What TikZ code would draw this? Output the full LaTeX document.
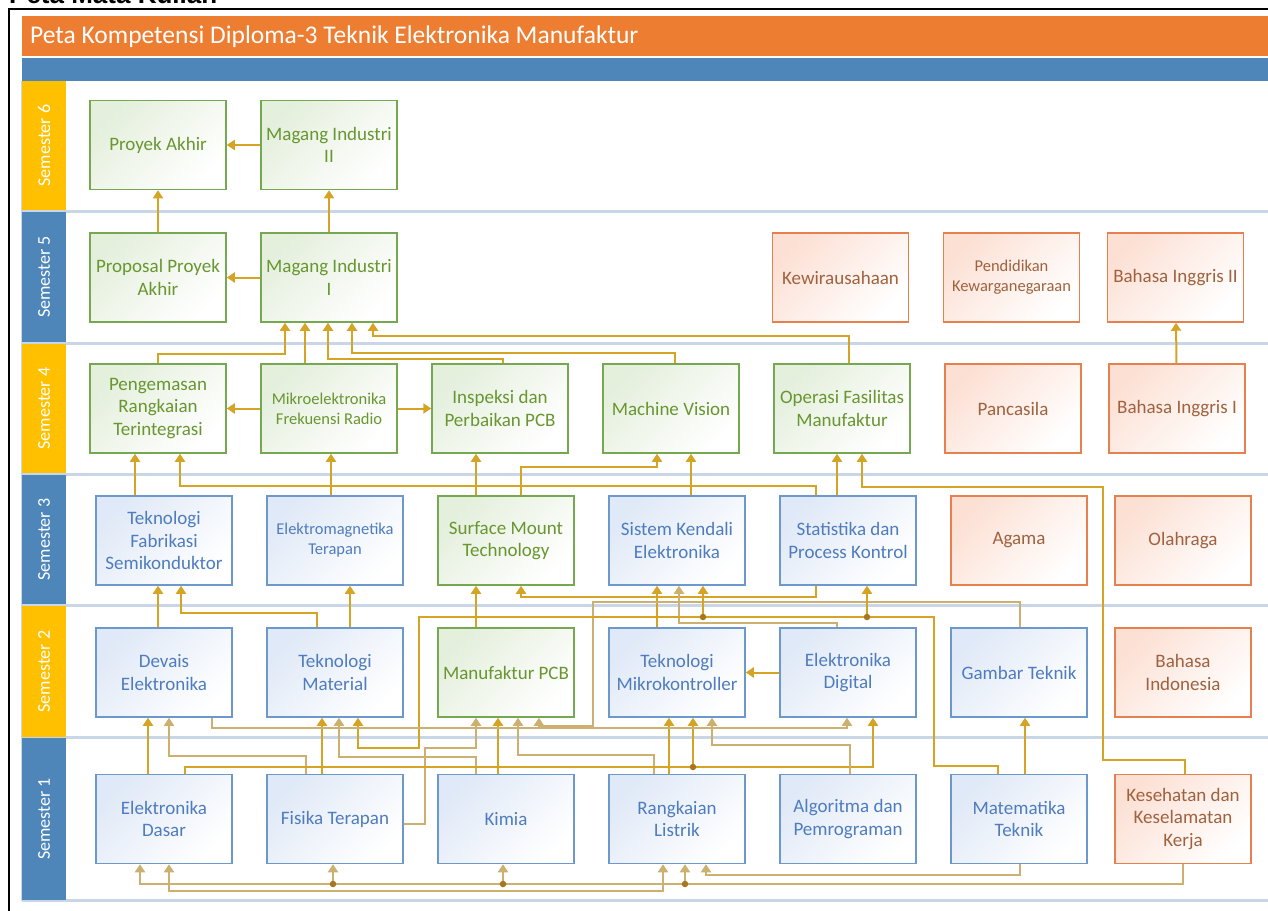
\documentclass[tikz,border=0pt]{standalone}
\usepackage{fontspec}
\setmainfont{Carlito}
\newfontfamily\headfont{Liberation Sans}
\usetikzlibrary{positioning,arrows.meta}

\definecolor{titleOrange}{RGB}{237,125,49}
\definecolor{laneBlue}{RGB}{78,134,186}
\definecolor{laneYellow}{RGB}{255,192,0}
\definecolor{laneLine}{RGB}{200,214,232}
\definecolor{flowGold}{RGB}{214,164,36}
\definecolor{flowTan}{RGB}{204,176,112}
\definecolor{dotBrown}{RGB}{168,118,32}
\definecolor{greenLine}{RGB}{118,168,82}
\definecolor{greenFill}{RGB}{228,239,220}
\definecolor{greenText}{RGB}{104,150,48}
\definecolor{blueLine}{RGB}{108,152,204}
\definecolor{blueFill}{RGB}{224,233,247}
\definecolor{blueText}{RGB}{78,124,190}
\definecolor{orangeLine}{RGB}{230,128,78}
\definecolor{orangeFill}{RGB}{252,224,212}
\definecolor{orangeText}{RGB}{160,98,62}

\begin{document}
\begin{tikzpicture}[x=1pt,y=-1pt,>={Triangle[width=10pt,length=8pt]}]

    %
    % Styles for courses, lanes and flows
    %
    \tikzstyle{course} = [draw, line width=1.5pt, rectangle, align=center, inner sep=2pt,
                          minimum width=136pt, minimum height=89pt, node distance=33.5pt,
                          shading angle=45, font={\fontsize{19}{22.5}\selectfont}]
    \tikzstyle{greenCourse} = [course, draw=greenLine, top color=greenFill, bottom color=white,
                               shading angle=45, text=greenText]
    \tikzstyle{blueCourse} = [course, draw=blueLine, top color=blueFill, bottom color=white,
                              shading angle=45, text=blueText]
    \tikzstyle{orangeCourse} = [course, draw=orangeLine, top color=orangeFill, bottom color=white,
                                shading angle=45, text=orangeText]
    \tikzstyle{smallText} = [font={\fontsize{16.5}{20}\selectfont}]
    \tikzstyle{laneHead} = [rotate=90, minimum height=44pt, inner sep=0pt, text=white,
                            font={\fontsize{18}{20}\selectfont}]
    \tikzstyle{dataFlow} = [draw=flowGold, line width=2pt, ->];
    \tikzstyle{mutedFlow} = [dataFlow, draw=flowTan];
    \tikzstyle{joint} = [circle, fill=dotBrown, inner sep=0pt, minimum size=6.5pt];

    \useasboundingbox (0,0) rectangle (1268,910);

    %
    % Frame, title and lanes
    %
    \draw[black, line width=2pt] (9,9) rectangle (1300,950);
    \node[anchor=base west, inner sep=0pt, font={\headfont\bfseries\fontsize{26}{28}\selectfont}]
      (caption) at (9,3.5) {Peta Mata Kuliah};
    \fill[titleOrange] (22,16) rectangle (1290,56);
    \node[anchor=west, text=white, inner sep=0pt, font={\fontsize{25.5}{28}\selectfont}]
      (title) at (30,37) {Peta Kompetensi Diploma-3 Teknik Elektronika Manufaktur};
    \fill[laneBlue] (22,58) rectangle (1290,81);

    \foreach \y in {211,343,474,605,737,900}
      \draw[laneLine, line width=3pt] (22,\y) -- (1290,\y);
    \draw[laneLine, line width=1.5pt] (22,81) -- (22,901);

    \node[laneHead, fill=laneYellow, minimum width=129pt] (sem6) at (44,145.5) {Semester 6};
    \node[laneHead, fill=laneBlue, minimum width=130pt] (sem5) at (44,277) {Semester 5};
    \node[laneHead, fill=laneYellow, minimum width=129pt] (sem4) at (44,408.5) {Semester 4};
    \node[laneHead, fill=laneBlue, minimum width=129pt] (sem3) at (44,539.5) {Semester 3};
    \node[laneHead, fill=laneYellow, minimum width=131pt] (sem2) at (44,671.5) {Semester 2};
    \node[laneHead, fill=laneBlue, minimum width=162pt] (sem1) at (44,819) {Semester 1};

    %
    % Position courses
    %
    \node[greenCourse] (pa) at (158,145) {Proyek Akhir};
    \node[greenCourse, right=of pa] (mi2) {Magang Industri\\II};

    \node[greenCourse] (ppa) at (158,277.5) {Proposal Proyek\\Akhir};
    \node[greenCourse, right=of ppa] (mi1) {Magang Industri\\I};
    \node[orangeCourse] (kwu) at (840.5,277.5) {Kewirausahaan};
    \node[orangeCourse, smallText, right=of kwu] (pkn) {Pendidikan\\Kewarganegaraan};
    \node[orangeCourse, right=26.5pt of pkn] (big2) {Bahasa Inggris II};

    \node[greenCourse] (pri) at (158,408.5) {Pengemasan\\Rangkaian\\Terintegrasi};
    \node[greenCourse, smallText, right=of pri] (mfr) {Mikroelektronika\\Frekuensi Radio};
    \node[greenCourse, right=of mfr] (ipp) {Inspeksi dan\\Perbaikan PCB};
    \node[greenCourse, right=of ipp] (mv) {Machine Vision};
    \node[greenCourse, right=of mv] (ofm) {Operasi Fasilitas\\Manufaktur};
    \node[orangeCourse, right=of ofm] (pnc) {Pancasila};
    \node[orangeCourse, right=26.5pt of pnc] (big1) {Bahasa Inggris I};

    \node[blueCourse] (tfs) at (164,540.5) {Teknologi\\Fabrikasi\\Semikonduktor};
    \node[blueCourse, smallText, right=of tfs] (emt) {Elektromagnetika\\Terapan};
    \node[greenCourse, right=of emt] (smt) {Surface Mount\\Technology};
    \node[blueCourse, right=of smt] (ske) {Sistem Kendali\\Elektronika};
    \node[blueCourse, right=of ske] (spk) {Statistika dan\\Process Kontrol};
    \node[orangeCourse, right=of spk] (agm) {Agama};
    \node[orangeCourse, right=26.5pt of agm] (olr) {Olahraga};

    \node[blueCourse] (dev) at (164,672.5) {Devais\\Elektronika};
    \node[blueCourse, right=of dev] (tmat) {Teknologi\\Material};
    \node[greenCourse, right=of tmat] (mpcb) {Manufaktur PCB};
    \node[blueCourse, right=of mpcb] (tmk) {Teknologi\\Mikrokontroller};
    \node[blueCourse, right=of tmk] (edig) {Elektronika\\Digital};
    \node[blueCourse, right=of edig] (gt) {Gambar Teknik};
    \node[orangeCourse, right=26.5pt of gt] (bin) {Bahasa\\Indonesia};

    \node[blueCourse] (ed) at (164,819) {Elektronika\\Dasar};
    \node[blueCourse, right=of ed] (ft) {Fisika Terapan};
    \node[blueCourse, right=of ft] (kim) {Kimia};
    \node[blueCourse, right=of kim] (rl) {Rangkaian\\Listrik};
    \node[blueCourse, right=of rl] (ap) {Algoritma dan\\Pemrograman};
    \node[blueCourse, right=of ap] (mt) {Matematika\\Teknik};
    \node[orangeCourse, right=26.5pt of mt] (k3) {Kesehatan dan\\Keselamatan\\Kerja};

    %
    % Connect courses, semester 6 and 5
    %
    \draw[dataFlow] (mi2) -- (pa);
    \draw[dataFlow] (ppa) -- (pa);
    \draw[dataFlow] (mi1) -- (mi2);
    \draw[dataFlow] (mi1) -- (ppa);
    \draw[dataFlow] (big1) -- (big2);

    % semester 4 into magang industri I
    \draw[dataFlow] (pri.north) |- (285,354) -- (285,0 |- mi1.south);
    \draw[dataFlow] (305,0 |- mfr.north) -- (305,0 |- mi1.south);
    \draw[dataFlow] (503,0 |- ipp.north) |- (328,359) -- (328,0 |- mi1.south);
    \draw[dataFlow] (675,0 |- mv.north) |- (352,353) -- (352,0 |- mi1.south);
    \draw[dataFlow] (849,0 |- ofm.north) |- (373,336) -- (373,0 |- mi1.south);
    \draw[dataFlow] (mfr) -- (pri);
    \draw[dataFlow] (mfr) -- (ipp);

    % semester 3 into semester 4
    \draw[dataFlow] (135,0 |- tfs.north) -- (135,0 |- pri.south);
    \draw[dataFlow] (816,0 |- spk.north) |- (180,486) -- (180,0 |- pri.south);
    \draw[dataFlow] (331,0 |- emt.north) -- (331,0 |- mfr.south);
    \draw[dataFlow] (476,0 |- smt.north) -- (476,0 |- ipp.south);
    \draw[dataFlow] (521,0 |- smt.north) |- (657,467) -- (657,0 |- mv.south);
    \draw[dataFlow] (691,0 |- ske.north) -- (691,0 |- mv.south);
    \draw[dataFlow] (837,0 |- spk.north) -- (837,0 |- ofm.south);
    \draw[dataFlow] (1185,0 |- k3.north) |- (1103,760) |- (862,487) -- (862,0 |- ofm.south);

    % semester 2 into semester 3
    \draw[dataFlow] (158,0 |- dev.north) -- (158,0 |- tfs.south);
    \draw[dataFlow] (317,0 |- tmat.north) |- (181,613) -- (181,0 |- tfs.south);
    \draw[dataFlow] (350,0 |- tmat.north) -- (350,0 |- emt.south);
    \draw[dataFlow] (476,0 |- mpcb.north) -- (476,0 |- smt.south);
    \draw[dataFlow] (816,0 |- spk.south) |- (521,597) -- (521,0 |- smt.south);
    \draw[dataFlow] (657,0 |- tmk.north) -- (657,0 |- ske.south);
    \draw[mutedFlow] (837,0 |- edig.north) |- (679,623) -- (679,0 |- ske.south);
    \draw[dataFlow] (edig) -- (tmk);
    \draw[dataFlow] (1025,0 |- mt.north) -- (1025,0 |- gt.south);
    \draw[mutedFlow] (1020,0 |- gt.north) |- (593,602) |- (539,726) -- (539,0 |- mpcb.south);

    % matematika teknik fans out
    \coordinate (jSke) at (703,617);
    \coordinate (jSpk) at (867,617);
    \draw[dataFlow] (998,0 |- mt.north) |- (934,766) |- (419,617) |- (358,748) -- (358,0 |- tmat.south);
    \draw[dataFlow] (jSke) -- (703,0 |- ske.south);
    \draw[dataFlow] (jSpk) -- (867,0 |- spk.south);

    % semester 1 into semester 2
    \coordinate (jTmk) at (693,767);
    \draw[dataFlow] (148,0 |- ed.north) -- (148,0 |- dev.south);
    \draw[mutedFlow] (306,0 |- ft.north) |- (169,756) -- (169,0 |- dev.south);
    \draw[dataFlow] (322,0 |- ft.north) -- (322,0 |- tmat.south);
    \draw[mutedFlow] (476,0 |- kim.north) |- (339,757) -- (339,0 |- tmat.south);
    \draw[mutedFlow] ([yshift=-5pt]ft.east) -| (425,748) -| (476,0 |- mpcb.south);
    \draw[dataFlow] (498,0 |- kim.north) -- (498,0 |- mpcb.south);
    \draw[mutedFlow] (654,0 |- rl.north) |- (518,755) -- (518,0 |- mpcb.south);
    \draw[dataFlow] (669,0 |- rl.north) -- (669,0 |- tmk.south);
    \draw[dataFlow] (185,0 |- ed.north) |- (873,767) -- (873,0 |- edig.south);
    \draw[dataFlow] (jTmk) -- (693,0 |- tmk.south);
    \draw[mutedFlow] (850,0 |- ap.north) |- (712,745) -- (712,0 |- tmk.south);
    \draw[mutedFlow] (212,0 |- dev.south) |- (847,728) -- (847,0 |- edig.south);

    % below semester 1
    \coordinate (jFt) at (333,884);
    \coordinate (jKim) at (503,884);
    \coordinate (jRl) at (685,884);
    \draw[mutedFlow] (1183,0 |- k3.south) |- (140,884) -- (140,0 |- ed.south);
    \draw[mutedFlow] (jFt) -- (333,0 |- ft.south);
    \draw[mutedFlow] (jKim) -- (503,0 |- kim.south);
    \draw[mutedFlow] (jRl) -- (685,0 |- rl.south);
    \draw[mutedFlow, <->] (169,0 |- ed.south) |- (663,891) -- (663,0 |- rl.south);
    \draw[mutedFlow] (1020,0 |- mt.south) |- (706,875) -- (706,0 |- rl.south);

    \foreach \j in {jSke,jSpk,jTmk,jFt,jKim,jRl}
      \node[joint] at (\j) {};
  \end{tikzpicture}
\end{document}
